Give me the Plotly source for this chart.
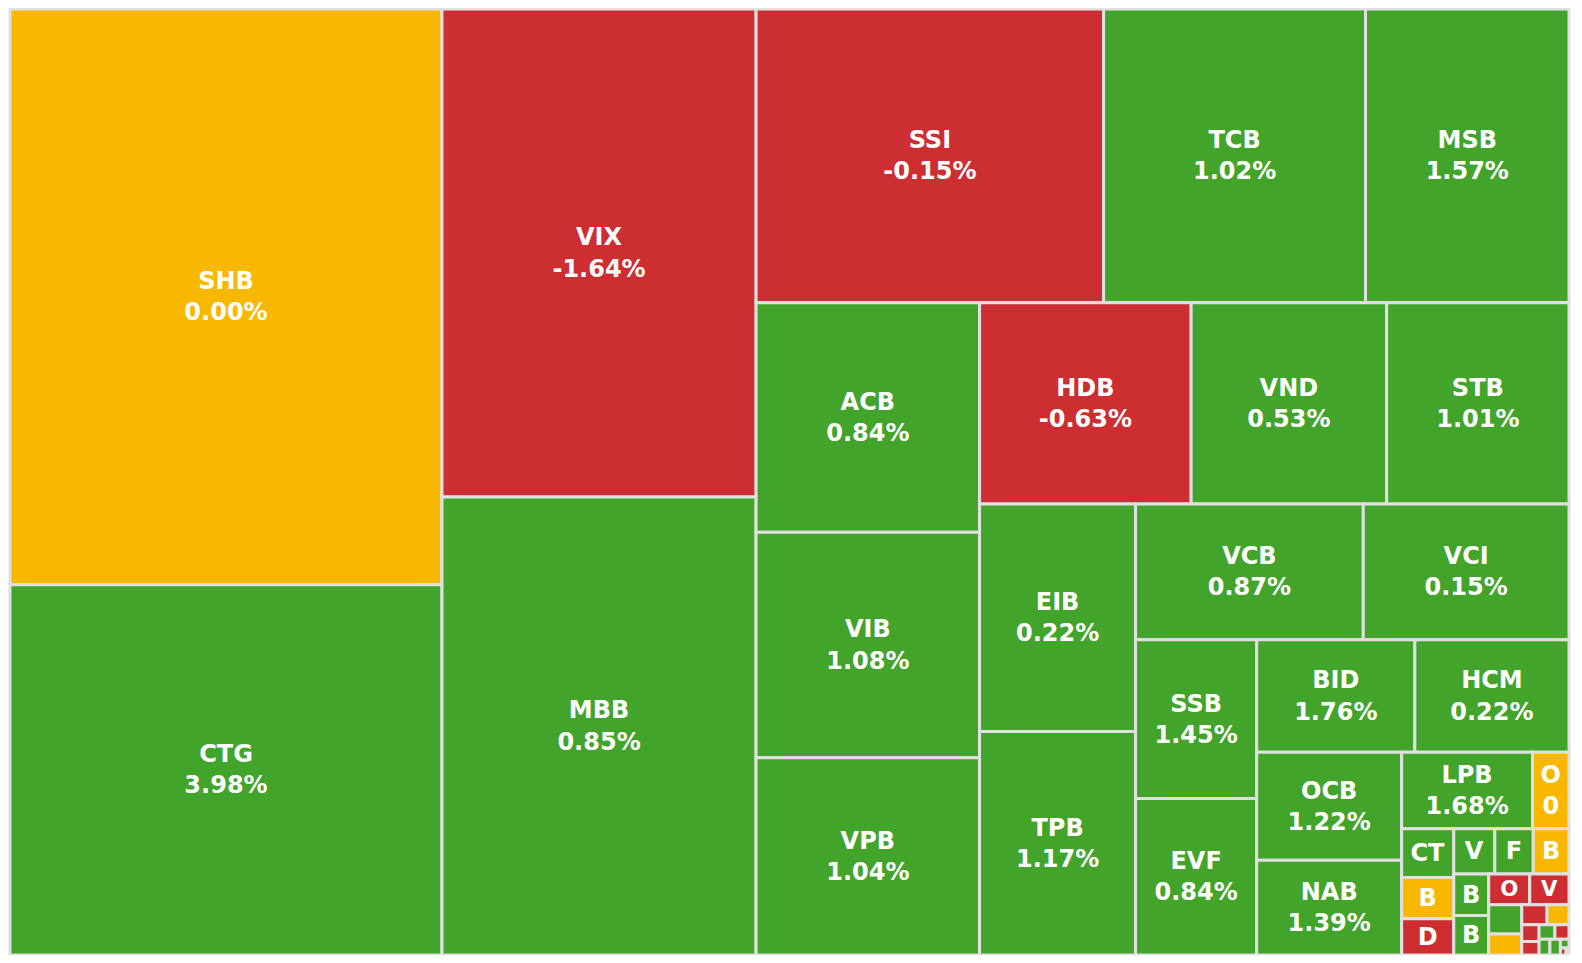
import plotly.graph_objects as go

# Tickers (visible ones; tiny tiles estimated)
tickers = ["SHB", "CTG", "VIX", "MBB", "SSI", "TCB", "MSB", "ACB", "VIB", "VPB",
           "HDB", "VND", "STB", "EIB", "TPB", "VCB", "VCI", "SSB", "EVF", "BID",
           "HCM", "OCB", "NAB", "LPB", "ORS", "CTS", "BVB", "DSC", "VDS", "FTS",
           "BAB", "BSI", "BVS", "OGC", "VAB", "AGR", "KLB", "PGB", "SGB", "TVS",
           "APG", "ABB", "TVB", "WSS", "EVS", "PSI", "IVS", "APS"]

# Tile sizes (relative weights read from tile areas)
sizes = [249800, 160700, 154000, 144500, 102550, 77300, 60050, 51500, 50600, 44300,
         42750, 39500, 36850, 35650, 35030, 31050, 28050, 19340, 19040, 17900,
         17450, 15700, 13800, 10040, 2800, 2550, 2160, 1900, 1860, 1745,
         1620, 1460, 1385, 1270, 1215, 975, 695, 512, 444, 290,
         235, 230, 205, 170, 165, 75, 40, 20]

# Percent change of each ticker
changes = [0.00, 3.98, -1.64, 0.85, -0.15, 1.02, 1.57, 0.84, 1.08, 1.04,
           -0.63, 0.53, 1.01, 0.22, 1.17, 0.87, 0.15, 1.45, 0.84, 1.76,
           0.22, 1.22, 1.39, 1.68, 0.00, 1.20, 0.00, -0.50, 0.90, 0.60,
           0.00, 0.70, 1.10, -1.20, -0.40, 0.50, 0.00, -0.80, 0.00, -1.00,
           -0.60, 0.40, -0.30, 0.30, 0.20, 0.10, -0.20, -0.10]

# Text as it appears (small tiles show truncated labels)
short_text = {"ORS": "O<br>0", "CTS": "CT", "BVB": "B", "DSC": "D", "VDS": "V",
              "FTS": "F", "BAB": "B", "BSI": "B", "BVS": "B", "OGC": "O", "VAB": "V"}
tiny = set(tickers[35:])

GREEN = "#43a42b"
RED = "#cc2e32"
ORANGE = "#f9b800"


def color_of(c):
    if c > 0:
        return GREEN
    if c < 0:
        return RED
    return ORANGE


texts = []
for t, c in zip(tickers, changes):
    if t in tiny:
        texts.append("")
    elif t in short_text:
        texts.append("<b>" + short_text[t] + "</b>")
    else:
        texts.append(f"<b>{t}<br>{c:.2f}%</b>")

fig = go.Figure(go.Treemap(
    labels=tickers,
    parents=[""] * len(tickers),
    values=sizes,
    text=texts,
    textinfo="text",
    textposition="middle center",
    textfont=dict(family="DejaVu Sans", size=24, color="white"),
    customdata=changes,
    hovertemplate="%{label}: %{customdata:.2f}%<extra></extra>",
    marker=dict(colors=[color_of(c) for c in changes],
                line=dict(width=3, color="#e0e0e0"),
                pad=dict(t=0, l=0, r=0, b=0)),
    tiling=dict(packing="squarify", squarifyratio=1, pad=0),
    pathbar=dict(visible=False),
    sort=True,
))

fig.update_layout(
    width=1566, height=947,
    margin=dict(l=2, r=5, t=1, b=0),
    paper_bgcolor="white",
    uniformtext=dict(minsize=8),
)

fig.write_html("out.html")
